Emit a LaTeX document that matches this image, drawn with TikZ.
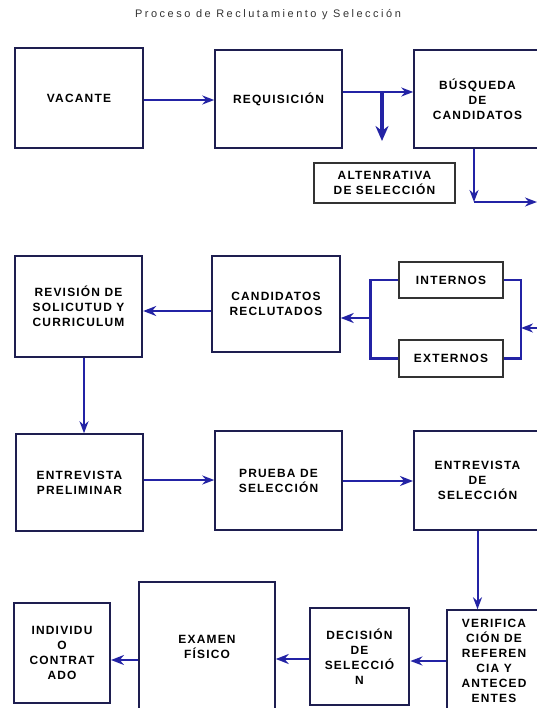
\documentclass[tikz,border=0pt]{standalone}
\usepackage{fontspec}
\setmainfont{Liberation Sans}
\newfontfamily\boxfont[LetterSpace=10]{Liberation Sans}
\newfontfamily\titlefont[LetterSpace=23]{Liberation Sans}
\usetikzlibrary{arrows.meta}
\definecolor{boxline}{RGB}{30,30,80}
\definecolor{flecha}{RGB}{35,35,165}
\definecolor{titulogris}{RGB}{50,50,50}

\begin{document}
\begin{tikzpicture}[x=1bp, y=-1bp,
    every node/.style={draw=boxline, line width=1.5bp, align=center, inner sep=2bp,
        font=\boxfont\bfseries\fontsize{12}{15}\selectfont},
    caja/.style 2 args={minimum width=#1bp, minimum height=#2bp},
    arr/.style={draw=flecha, line width=2bp, -{Stealth[length=12bp,width=9bp]}},
    gruesa/.style={draw=flecha, line width=2.8bp, -{Stealth[length=13bp,width=10bp]}},
    grande/.style={draw=flecha, line width=4bp, -{Stealth[length=15bp,width=13bp]}},
    linea/.style={draw=flecha, line width=2.2bp}]
    \useasboundingbox (0,0) rectangle (537,708);
    \clip (0,0) rectangle (537,708);

    \node[draw=none, text=titulogris, font=\titlefont\fontsize{11}{12}\selectfont] (titulo) at (268,15) {Proceso de Reclutamiento y Selección};

    % fila 1
    \node[caja={128}{100}] (vac) at (79,98) {VACANTE};
    \node[caja={127}{98}] (req) at (278.5,99) {REQUISICIÓN};
    \node[caja={127}{98}] (busq) at (477.5,99) {BÚSQUEDA\\DE\\CANDIDATOS};
    \node[caja={141}{40}, draw=black!80, line width=1.2bp] (alt) at (384.5,183) {ALTENRATIVA\\DE SELECCIÓN};

    % fila 2
    \node[caja={127}{101}, line width=2.4bp] (rev) at (78.5,306.5) {REVISIÓN DE\\SOLICUTUD Y\\CURRICULUM};
    \node[caja={128}{96}] (cand) at (276,304) {CANDIDATOS\\RECLUTADOS};
    \node[caja={104}{36}, draw=black!80, line width=1.2bp] (int) at (451,280) {INTERNOS};
    \node[caja={104}{37}, draw=black!80, line width=1.2bp] (ext) at (451,358.5) {EXTERNOS};

    % fila 3
    \node[caja={127}{97}] (prel) at (79.5,482.5) {ENTREVISTA\\PRELIMINAR};
    \node[caja={127}{99}] (prueba) at (278.5,480.5) {PRUEBA DE\\SELECCIÓN};
    \node[caja={127}{99}, line width=2bp] (entsel) at (477.5,480.5) {ENTREVISTA\\DE\\SELECCIÓN};

    % fila 4
    \node[caja={96}{100}, line width=2bp] (indiv) at (62,653) {INDIVIDU\\O\\CONTRAT\\ADO};
    \node[caja={136}{130}] (exam) at (207,647) {EXAMEN\\FÍSICO};
    \node[caja={99}{97}, line width=2.8bp] (dec) at (359.5,656.5) {DECISIÓN\\DE\\SELECCIÓ\\N};
    \node[caja={94}{102}] (verif) at (494,661) {VERIFICA\\CIÓN DE\\REFEREN\\CIA Y\\ANTECED\\ENTES};

    \coordinate (rama) at (382,92);
    \coordinate (ramafin) at (382,141);
    \coordinate (baja) at (474,202);
    \coordinate (borde) at (537,202);
    \coordinate (juntaizq) at (371,318);
    \coordinate (juntader) at (521,328);
    \coordinate (entra) at (540,328);

    \draw[arr] (vac.east |- 0,100) -- (req.west |- 0,100);
    \draw[arr] ([yshift=7bp]req.east) -- ([yshift=7bp]busq.west);
    \draw[grande] (rama) -- (ramafin);
    \draw[arr] (busq.south -| baja) -- (baja);
    \draw[arr] (baja) -- (borde);

    \draw[linea] (int.west) -- ++(-28,0) |- (ext.west);
    \draw[linea] (int.east) -- ++(17,0) |- (ext.east);
    \draw[arr] (entra) -- (juntader);
    \draw[gruesa] (juntaizq) -- (juntaizq -| cand.east);
    \draw[gruesa] (cand.west |- 0,311) -- (rev.east |- 0,311);

    \draw[arr] (rev.south -| 84,0) -- (prel.north -| 84,0);
    \draw[arr] (prel.east |- 0,480) -- (prueba.west |- 0,480);
    \draw[gruesa] (prueba.east |- 0,481) -- (entsel.west |- 0,481);
    \draw[arr] (entsel.south) -- (entsel.south |- verif.north);

    \draw[arr] (verif.west |- 0,661) -- (dec.east |- 0,661);
    \draw[gruesa] (dec.west |- 0,659) -- (exam.east |- 0,659);
    \draw[gruesa] (exam.west |- 0,660) -- (indiv.east |- 0,660);
\end{tikzpicture}
\end{document}
